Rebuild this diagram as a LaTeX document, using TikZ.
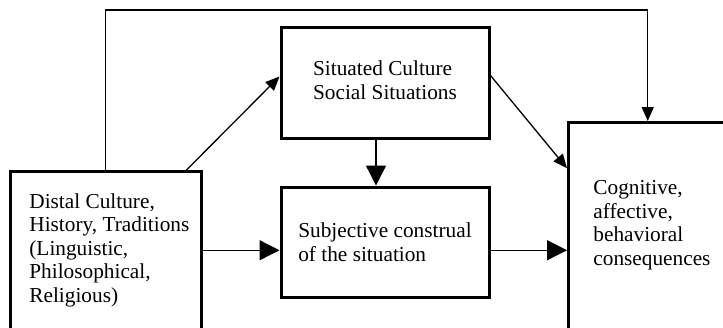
\documentclass[tikz,border=0pt]{standalone}
\usepackage{fontspec}
\setmainfont{Liberation Serif}
\usetikzlibrary{arrows.meta}

\begin{document}
\begin{tikzpicture}[x=0.5pt,y=-0.5pt,
    box/.style={draw, line width=1.5pt, inner sep=0pt},
    boxtext/.style={align=left, inner sep=0pt, font=\fontsize{10.65}{11.8}\selectfont},
    link/.style={line width=0.65pt},
    bighead/.style={-{Triangle[length=10pt,width=10pt]}},
    smallhead/.style={-{Triangle[length=7pt,width=6pt]}}]
    \pgfmathsetmacro{\picw}{723}
    \pgfmathsetmacro{\pich}{327}
    \useasboundingbox (0,0) rectangle (\picw,\pich);
    \clip (0,0) rectangle (\picw,\pich);
    % boxes (the two outer ones run off the page)
    \node[box, minimum width=95.5pt, minimum height=84.25pt] (distal) at (105.5,255.75) {};
    \node[box, minimum width=104pt, minimum height=55.5pt] (situated) at (385,82.5) {};
    \node[box, minimum width=104pt, minimum height=55.25pt] (subj) at (385,242.25) {};
    \node[box, minimum width=83.25pt, minimum height=108.75pt] (cog) at (651.75,231.25) {};
    % texts
    \node[boxtext, anchor=west] (distaltext) at ([xshift=10.25pt,yshift=2.75pt]distal.west) {Distal Culture,\\History, Traditions\\(Linguistic,\\Philosophical,\\Religious)};
    \node[boxtext] (situatedtext) at ([yshift=1pt]situated) {Situated Culture\\Social Situations};
    \node[boxtext] (subjtext) at (subj) {Subjective construal\\of the situation};
    \node[boxtext, anchor=west] (cogtext) at ([xshift=13pt,yshift=3pt]cog.west) {Cognitive,\\affective,\\behavioral\\consequences};
    % connectors
    \draw[link, smallhead] (distal.north) -- ++(0,-160) -| ([xshift=-2pt]cog.north);
    \draw[link, smallhead] ([xshift=-8pt]distal.north east) -- ([yshift=3pt]situated.west);
    \draw[link, smallhead] ([yshift=3.5pt]situated.east) -- ([yshift=31.5pt]cog.west);
    \draw[link, bighead] ([xshift=-4.5pt]situated.south) -- ([xshift=-4.5pt]subj.north);
    \draw[link, bighead] ([yshift=2.75pt]distal.east) -- ([yshift=2.75pt]distal.east -| subj.west);
    \draw[link, bighead] ([yshift=-4pt]subj.east) -- ([yshift=-4pt]subj.east -| cog.west);
\end{tikzpicture}
\end{document}
